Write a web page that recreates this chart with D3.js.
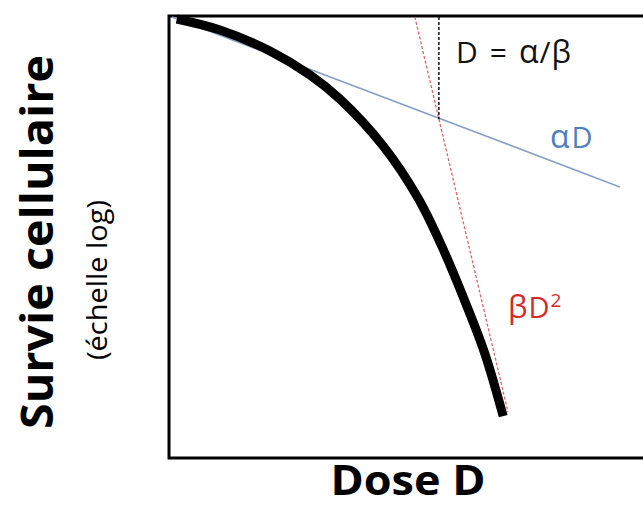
<!DOCTYPE html>
<html>
<head>
<meta charset="utf-8">
<script src="https://cdn.jsdelivr.net/npm/d3@7"></script>
<style>
  html, body { margin: 0; padding: 0; background: #fff; }
  svg { display: block; }
</style>
</head>
<body>
<script>
// Linear-quadratic survival curve (dose vs. surviving fraction, log scale)
const curveDose     = [0.1, 1.0, 2.04, 2.875, 3.5, 4.4, 5.125, 5.6, 6.15, 6.52, 6.9];
const curveSurvival = [0.955, 0.741, 0.457, 0.263, 0.151, 0.0513, 0.0155, 0.00537, 0.00126, 0.000427, 0.000102];

// Linear (alpha) component: straight line on the log scale
const alphaDose     = [0.0, 9.33];
const alphaSurvival = [1.0, 0.02];

// Quadratic (beta) component tangent
const betaDose      = [5.06, 7.0];
const betaSurvival  = [1.0, 0.000112];

// Crossing of both components at D = alpha/beta
const crossDose     = [5.56, 5.56];
const crossSurvival = [1.0, 0.095];

const labels = {
  yTitle: "Survie cellulaire",
  ySub: "(échelle log)",
  xTitle: "Dose D"
};

const W = 643, H = 507;
const frame = { left: 169, top: 16, bottom: 458, right: 700 };

const svg = d3.select("body").append("svg")
  .attr("width", W).attr("height", H);

const x = d3.scaleLinear().domain([0, 10]).range([172, 652]);
const y = d3.scaleLog().domain([1, 1e-4]).range([17, 417]);

const line = d3.line().x(d => x(d[0])).y(d => y(d[1]));
const smooth = d3.line().x(d => x(d[0])).y(d => y(d[1])).curve(d3.curveCatmullRom.alpha(0.5));

const zip = (a, b) => a.map((v, i) => [v, b[i]]);

// frame (right side runs off the page)
svg.append("path")
  .attr("d", `M${frame.right},${frame.top} H${frame.left} V${frame.bottom} H${frame.right}`)
  .attr("fill", "none").attr("stroke", "#000").attr("stroke-width", 3);

// alpha line
svg.append("path")
  .attr("d", line(zip(alphaDose, alphaSurvival)))
  .attr("fill", "none").attr("stroke", "#86a0c6").attr("stroke-width", 1.6);

// survival curve
svg.append("path")
  .attr("d", smooth(zip(curveDose, curveSurvival)))
  .attr("fill", "none").attr("stroke", "#000").attr("stroke-width", 9)
  .attr("stroke-linecap", "butt");

// beta tangent
svg.append("path")
  .attr("d", line(zip(betaDose, betaSurvival)))
  .attr("fill", "none").attr("stroke", "#e06464").attr("stroke-width", 1.3)
  .attr("stroke-dasharray", "3,2");

// alpha/beta marker
svg.append("path")
  .attr("d", line(zip(crossDose, crossSurvival)))
  .attr("fill", "none").attr("stroke", "#000").attr("stroke-width", 1.4)
  .attr("stroke-dasharray", "3,2");

const font = "'Open Sans', Lato, sans-serif";

// annotation text built from runs; Greek letters get a slightly larger size
function runs(parent, parts) {
  parts.forEach(p => {
    const t = parent.append("tspan").text(p.s);
    if (p.dx) t.attr("dx", p.dx);
    if (p.dy) t.attr("dy", p.dy);
    if (p.size) t.attr("font-size", p.size);
  });
}

const ratio = svg.append("text")
  .attr("x", 456).attr("y", 63)
  .attr("font-family", font).attr("font-size", 30)
  .attr("fill", "#111");
runs(ratio, [
  { s: "D" }, { s: "=", dx: 12 }, { s: "α", dx: 12, size: 32 },
  { s: "/", dx: 1 }, { s: "β", dx: 1, size: 31 }
]);

const al = svg.append("text")
  .attr("x", 550).attr("y", 148)
  .attr("font-family", font).attr("font-size", 29)
  .attr("fill", "#4f7fbf");
runs(al, [{ s: "α", size: 32 }, { s: "D", dx: 2 }]);

const bt = svg.append("text")
  .attr("x", 508).attr("y", 318)
  .attr("font-family", font).attr("font-size", 29)
  .attr("fill", "#d42a2a");
runs(bt, [
  { s: "β", size: 31 }, { s: "D", dx: 1 },
  { s: "2", dx: 1, dy: -11, size: 19 }
]);

svg.append("text")
  .attr("x", 408).attr("y", 495)
  .attr("text-anchor", "middle")
  .attr("font-family", font).attr("font-weight", "bold").attr("font-size", 42)
  .attr("fill", "#000")
  .attr("textLength", 155).attr("lengthAdjust", "spacingAndGlyphs")
  .text(labels.xTitle);

svg.append("text")
  .attr("transform", "translate(53,242) rotate(-90)")
  .attr("text-anchor", "middle")
  .attr("font-family", font).attr("font-weight", "bold").attr("font-size", 45)
  .attr("fill", "#000")
  .attr("textLength", 374).attr("lengthAdjust", "spacingAndGlyphs")
  .text(labels.yTitle);

svg.append("text")
  .attr("transform", "translate(107,280) rotate(-90)")
  .attr("text-anchor", "middle")
  .attr("font-family", font).attr("font-size", 27)
  .attr("fill", "#000")
  .attr("textLength", 160).attr("lengthAdjust", "spacingAndGlyphs")
  .text(labels.ySub);
</script>
</body>
</html>
